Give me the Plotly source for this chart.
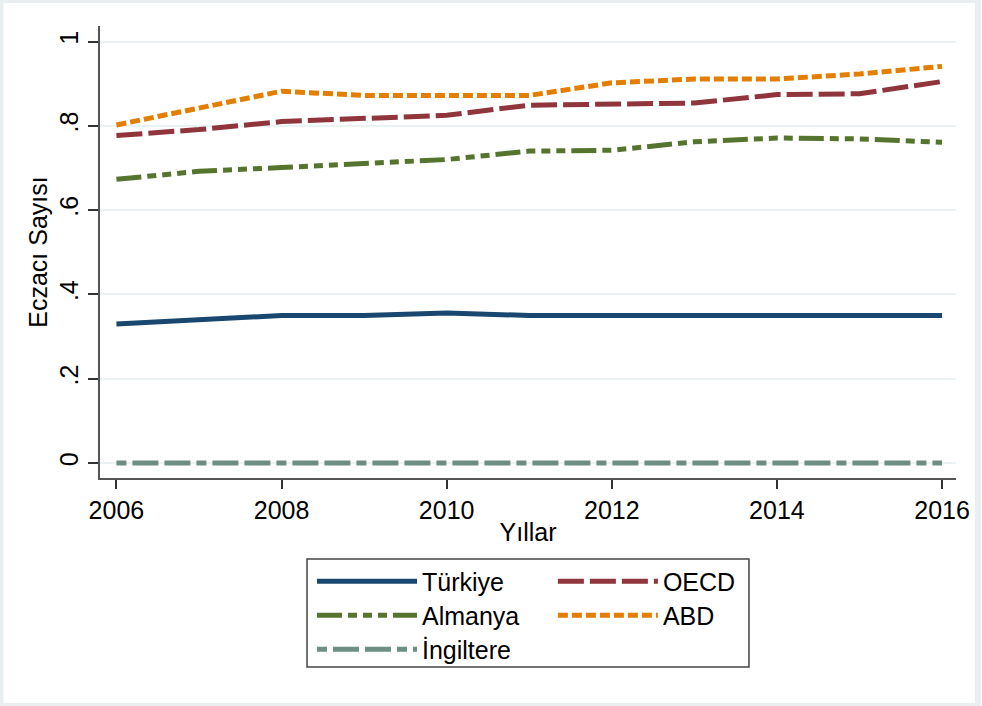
import plotly.graph_objects as go

years = [2006, 2007, 2008, 2009, 2010, 2011, 2012, 2013, 2014, 2015, 2016]
turkiye = [0.330, 0.340, 0.350, 0.350, 0.356, 0.350, 0.350, 0.350, 0.350, 0.350, 0.350]
oecd = [0.777, 0.791, 0.810, 0.817, 0.825, 0.849, 0.852, 0.854, 0.874, 0.876, 0.905]
almanya = [0.673, 0.692, 0.701, 0.710, 0.720, 0.740, 0.742, 0.762, 0.771, 0.769, 0.761]
abd = [0.802, 0.842, 0.882, 0.872, 0.872, 0.872, 0.902, 0.911, 0.911, 0.923, 0.941]
ingiltere = [0, 0, 0, 0, 0, 0, 0, 0, 0, 0, 0]

y_tickvals = [0, 0.2, 0.4, 0.6, 0.8, 1.0]
y_ticktext = ["0", ".2", ".4", ".6", ".8", "1"]
x_tickvals = [2006, 2008, 2010, 2012, 2014, 2016]

FONT = "Liberation Sans, Arial, sans-serif"
FS = 25

# plot area in pixels: x 100..960, y 26..478
def px_x(p):
    return (p - 100) / 860.0

def px_y(p):
    return (478 - p) / 452.0

# name, values, color, dash, legend id, legend left px, legend row centre px
series = [
    ("Türkiye", turkiye, "#1a476f", "solid", "legend", 313, 580),
    ("OECD", oecd, "#90353b", "26px,6px", "legend2", 555, 580),
    ("Almanya", almanya, "#55752f", "25px,6px,9px,6px,9px,6px,9px,6px", "legend3", 313, 614),
    ("ABD", abd, "#e37e00", "10px,4px", "legend4", 555, 614),
    ("İngiltere", ingiltere, "#6e8e84", "10px,6px,26px,6px,26px,6px", "legend5", 313, 648),
]

fig = go.Figure()
legends = {}
for name, vals, color, dash, leg, lx, ly in series:
    fig.add_trace(go.Scatter(
        x=years, y=vals, name=name, mode="lines",
        line=dict(color=color, width=5, dash=dash),
        legend=leg, showlegend=True,
    ))
    legends[leg] = dict(
        x=px_x(lx), y=px_y(ly - 21.5),
        xanchor="left", yanchor="top",
        orientation="v", itemwidth=100,
        font=dict(family=FONT, size=FS, color="#000000"),
        bgcolor="rgba(0,0,0,0)", borderwidth=0,
    )

fig.update_layout(
    width=982, height=706,
    showlegend=True,
    margin=dict(l=100, r=22, t=26, b=228),
    paper_bgcolor="white", plot_bgcolor="white",
    font=dict(family=FONT, size=FS, color="#000000"),
    xaxis=dict(
        range=[2005.801, 2016.169],
        tickvals=x_tickvals,
        ticks="outside", ticklen=9, tickwidth=1.5, tickcolor="#333333",
        showline=True, linecolor="#555555", linewidth=2,
        showgrid=False, zeroline=False,
        tickfont=dict(size=FS),
        title=dict(text="Yıllar", font=dict(size=FS), standoff=0),
    ),
    yaxis=dict(
        range=[-0.0356, 1.0368],
        tickvals=y_tickvals, ticktext=y_ticktext,
        tickangle=-90,
        ticks="outside", ticklen=10, tickwidth=1.5, tickcolor="#333333",
        showline=True, linecolor="#555555", linewidth=2,
        showgrid=True, gridcolor="#eaf2f3", gridwidth=2,
        zeroline=False,
        tickfont=dict(size=FS),
        title=dict(text="Eczacı Sayısı", font=dict(size=FS), standoff=0),
    ),
    shapes=[
        dict(type="rect", xref="paper", yref="paper",
             x0=px_x(308), x1=px_x(752), y0=px_y(667), y1=px_y(559),
             line=dict(color="#444444", width=1.5), fillcolor="rgba(0,0,0,0)"),
        dict(type="rect", xref="paper", yref="paper",
             x0=px_x(0), x1=px_x(982), y0=px_y(706), y1=px_y(0),
             line=dict(color="#e9eef0", width=6), fillcolor="rgba(0,0,0,0)",
             layer="below"),
    ],
    **legends,
)

fig.write_html("out.html")
